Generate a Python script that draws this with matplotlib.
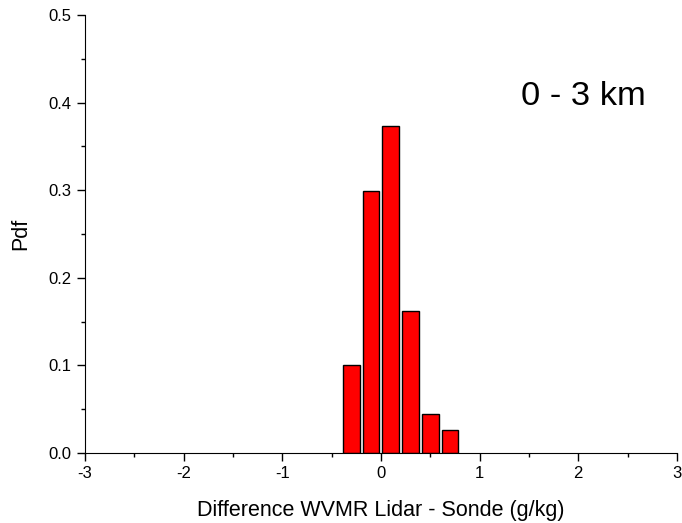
import matplotlib
matplotlib.use("Agg")
import matplotlib.pyplot as plt
from matplotlib.ticker import MultipleLocator, FormatStrFormatter

# histogram bins (centres) and pdf values
bin_centres = [-0.3, -0.1, 0.1, 0.3, 0.5, 0.7]
pdf_values = [0.100, 0.299, 0.373, 0.162, 0.044, 0.026]

plt.rcParams['font.family'] = ['Liberation Sans', 'DejaVu Sans']
plt.rcParams['axes.unicode_minus'] = False

fig = plt.figure(figsize=(6.82, 5.23), dpi=100)
ax = fig.add_axes([0.1246, 0.1338, 0.868, 0.8375])

ax.bar(bin_centres, pdf_values, width=0.17, color='#ff0000',
       edgecolor='black', linewidth=1.0)

ax.set_xlim(-3, 3)
ax.set_ylim(0, 0.5)

ax.spines['top'].set_visible(False)
ax.spines['right'].set_visible(False)

ax.xaxis.set_major_locator(MultipleLocator(1))
ax.xaxis.set_minor_locator(MultipleLocator(0.5))
ax.yaxis.set_major_locator(MultipleLocator(0.1))
ax.yaxis.set_minor_locator(MultipleLocator(0.05))
ax.yaxis.set_major_formatter(FormatStrFormatter('%.1f'))

ax.tick_params(which='major', direction='out', length=5.5, width=1,
               labelsize=12, pad=4)
ax.tick_params(which='minor', direction='out', length=3, width=1)

ax.set_xlabel('Difference WVMR Lidar - Sonde (g/kg)', fontsize=15.5, va='center')
ax.set_ylabel('Pdf', fontsize=15.5, va='center')
ax.xaxis.set_label_coords(0.5, -0.132)
ax.yaxis.set_label_coords(-0.108, 0.5)

ax.text(0.842, 0.815, '0 - 3 km', transform=ax.transAxes, fontsize=24.8,
        ha='center', va='center')

plt.savefig('out.png', dpi=100)
